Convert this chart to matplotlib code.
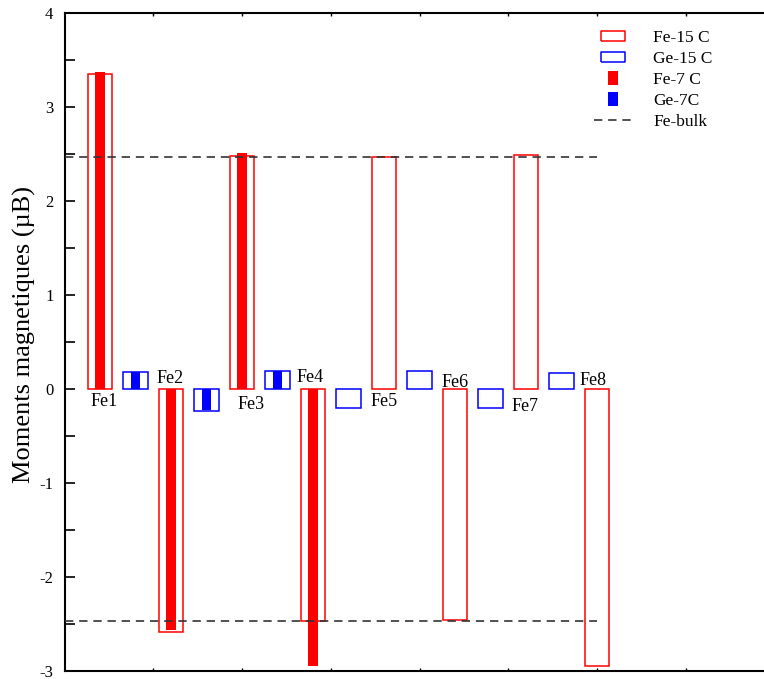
# -*- coding: utf-8 -*-
"""
Moments magnetiques Fe / Ge
"""
import numpy as np
import matplotlib
matplotlib.use('Agg')
import matplotlib.pyplot as plt
from matplotlib.lines import Line2D
from matplotlib.path import Path

plt.rcParams['font.family'] = ['Liberation Serif', 'DejaVu Serif']
plt.rcParams['axes.unicode_minus'] = False

#====================================================
#                       Data
#====================================================
fe_pos = [1, 3, 5, 7, 9, 11, 13, 15]
ge_pos = [2, 4, 6, 8, 10, 12, 14]

fe_15c = [3.35, -2.58, 2.48, -2.465, 2.47, -2.455, 2.49, -2.95]
ge_15c = [0.18, -0.23, 0.19, -0.20, 0.19, -0.20, 0.17]
fe_7c  = [3.37, -2.56, 2.51, -2.95]
ge_7c  = [0.18, -0.22, 0.19]

fe_bulk = 2.47

labels  = ['Fe1', 'Fe2', 'Fe3', 'Fe4', 'Fe5', 'Fe6', 'Fe7', 'Fe8']
# label anchor positions (data coords)
lab_x = [1.13, 2.97, 5.25, 6.92, 9.0, 10.99, 12.97, 14.89]
lab_y = [-0.135, 0.11, -0.16, 0.12, -0.135, 0.067, -0.19, 0.09]

#====================================================
#                       Plotting
#====================================================
W, H = 764, 679
fig = plt.figure(figsize=(W/100, H/100), dpi=100)
x0, x20 = 64.5, 64.5 + 20*35.5
ax = fig.add_axes([x0/W, 8/H, (x20 - x0)/W, (671 - 13)/H])

wide, thin = 0.7, 0.27
ax.bar(fe_pos, fe_15c, width=wide, facecolor='white', edgecolor='#ff0000', lw=1.1, zorder=2)
ax.bar(ge_pos, ge_15c, width=wide, facecolor='white', edgecolor='#0000ff', lw=1.1, zorder=2)
ax.bar(fe_pos[:len(fe_7c)], fe_7c, width=thin, color='#ff0000', lw=0, zorder=3)
ax.bar(ge_pos[:len(ge_7c)], ge_7c, width=thin, color='#0000ff', lw=0, zorder=3)

for yb in (fe_bulk, -fe_bulk):
    ax.plot([0, 15], [yb, yb], color='#333333', lw=1.2, dashes=(5, 3.5), zorder=4)

for t, xx, yy in zip(labels, lab_x, lab_y):
    ax.text(xx, yy, t, fontsize=13, ha='center', va='center')

ax.set_xlim(0, 20)
ax.set_ylim(-3, 4)
ax.set_yticks(np.arange(-3, 5, 1))
ax.set_yticks(np.arange(-3, 4.5, 0.5), minor=True)
ax.set_xticks(np.arange(2.5, 20, 2.5))
ax.set_xticklabels([])
ax.tick_params(axis='y', which='both', direction='in', length=7, width=1.2,
               labelsize=12, pad=8, right=True)
ax.tick_params(axis='x', which='both', direction='in', length=2, width=1, top=True)
for s in ax.spines.values():
    s.set_linewidth(1.5)

ax.set_ylabel('Moments magnetiques (\u00b5B)', fontsize=19)
ax.yaxis.set_label_coords(-28/710, 0.512)

# legend
box = Path([(-1, -0.45), (1, -0.45), (1, 0.45), (-1, 0.45), (-1, -0.45)])
slim = Path([(-0.35, -0.5), (0.35, -0.5), (0.35, 0.5), (-0.35, 0.5), (-0.35, -0.5)])
handles = [
    Line2D([], [], ls='none', marker=box, ms=17, mfc='white', mec='#ff0000', mew=1.1),
    Line2D([], [], ls='none', marker=box, ms=17, mfc='white', mec='#0000ff', mew=1.1),
    Line2D([], [], ls='none', marker=slim, ms=9.5, mfc='#ff0000', mec='#ff0000', mew=0),
    Line2D([], [], ls='none', marker=slim, ms=9.5, mfc='#0000ff', mec='#0000ff', mew=0),
    Line2D([], [], color='#333333', lw=1.2, dashes=(5, 3.5)),
]
names = ['Fe-15 C', 'Ge-15 C', 'Fe-7 C', 'Ge-7C', 'Fe-bulk']
fig.legend(handles, names, loc='upper left', bbox_to_anchor=(594/W, 1 - 30/H),
           frameon=False, fontsize=12.5, handlelength=2.2, handletextpad=1.2,
           labelspacing=0.28, borderpad=0, borderaxespad=0)

fig.savefig('out.png', dpi=100)
